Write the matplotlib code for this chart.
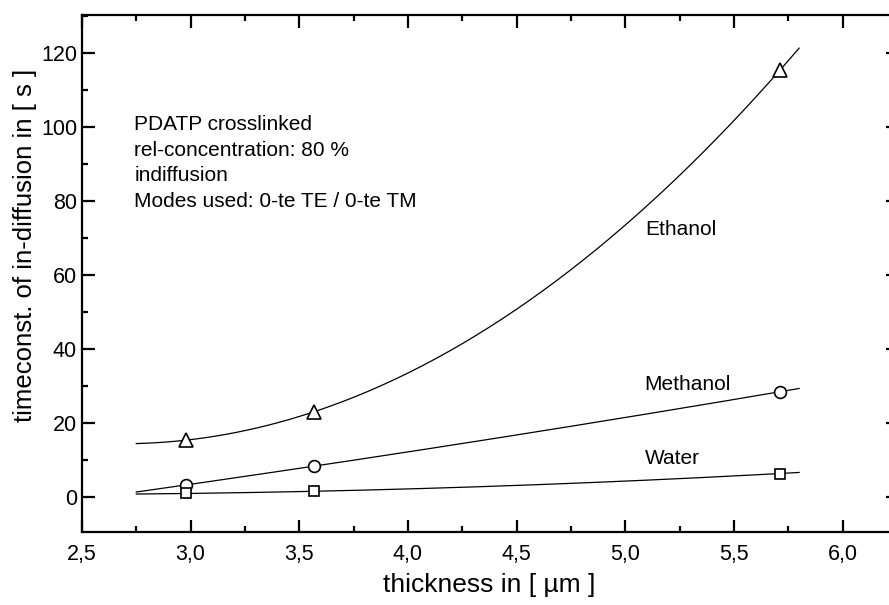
import numpy as np
import matplotlib
matplotlib.use('Agg')
import matplotlib.pyplot as plt
from matplotlib.ticker import MultipleLocator, FuncFormatter

plt.rcParams['font.family'] = ['Liberation Sans', 'DejaVu Sans']

# film thickness of the three samples [um]
thickness = [2.977, 3.569, 5.712]

# time constants of in-diffusion [s]
ethanol = [15.3, 23.0, 115.3]
methanol = [3.2, 8.3, 28.4]
water = [0.9, 1.5, 6.3]

fit_range = (2.75, 5.8)

info_lines = ['PDATP crosslinked',
              'rel-concentration: 80 %',
              'indiffusion',
              'Modes used: 0-te TE / 0-te TM']

fig = plt.figure(figsize=(8.89, 6.05), dpi=100)
ax = fig.add_axes([0.0922, 0.1207, 0.9179, 0.8545])

xs = np.linspace(fit_range[0], fit_range[1], 200)
series = [(ethanol, '^', 10), (methanol, 'o', 8.5), (water, 's', 7.5)]
for vals, mk, ms in series:
    coef = np.polyfit(thickness, vals, 2)
    ax.plot(xs, np.polyval(coef, xs), color='black', lw=0.9)
    ax.plot(thickness, vals, ls='none', marker=mk, ms=ms,
            mfc='white', mec='black', mew=1.2)

ax.text(5.09, 72.3, 'Ethanol', fontsize=15, va='center')
ax.text(5.086, 30.4, 'Methanol', fontsize=15, va='center')
ax.text(5.09, 10.4, 'Water', fontsize=15, va='center')

for i, line in enumerate(info_lines):
    ax.text(2.741, 100.5 - i * 6.9, line, fontsize=15, va='center')

ax.set_xlim(2.5, 6.255)
ax.set_ylim(-9.5, 130.2)

ax.xaxis.set_major_locator(MultipleLocator(0.5))
ax.xaxis.set_minor_locator(MultipleLocator(0.25))
ax.yaxis.set_major_locator(MultipleLocator(20))
ax.yaxis.set_minor_locator(MultipleLocator(10))
ax.xaxis.set_major_formatter(FuncFormatter(lambda v, p: f'{v:.1f}'.replace('.', ',')))
ax.yaxis.set_major_formatter(FuncFormatter(lambda v, p: f'{v:.0f}'))

ax.tick_params(which='both', direction='in', top=True, right=True, width=1.6)
ax.tick_params(which='major', length=9)
ax.tick_params(which='minor', length=4.5)
ax.tick_params(axis='x', which='major', pad=9, labelsize=15.5)
ax.tick_params(axis='y', which='major', pad=3.5, labelsize=15.5)

for sp in ax.spines.values():
    sp.set_linewidth(1.6)

ax.set_xlabel('thickness in [ µm ]', fontsize=19)
ax.set_ylabel('timeconst. of in-diffusion in [ s ]', fontsize=18.5)
ax.xaxis.set_label_coords(0.499, -0.079)
ax.yaxis.set_label_coords(-0.055, 0.555)

fig.savefig('out.png', dpi=100)
